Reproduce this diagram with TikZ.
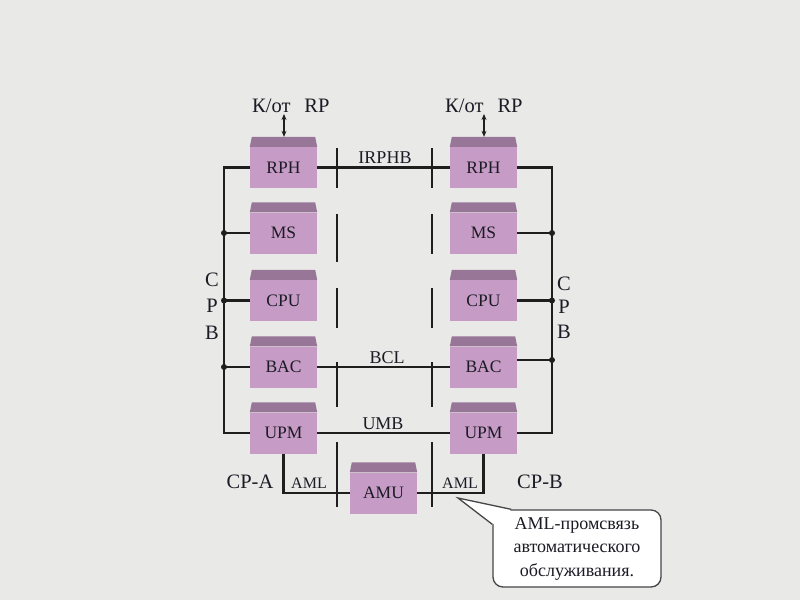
\documentclass[tikz,border=0pt]{standalone}
\usepackage{fontspec}
\setmainfont{Liberation Serif}
\usetikzlibrary{calc,arrows.meta}
\definecolor{bgc}{RGB}{233,233,231}
\definecolor{boxc}{RGB}{198,156,198}
\definecolor{topc}{RGB}{152,118,152}
\definecolor{txt}{RGB}{28,26,36}
\definecolor{ln}{RGB}{30,30,30}
\definecolor{notec}{RGB}{70,70,70}
\tikzset{
  unit/.style={fill=boxc, minimum width=67pt, minimum height=41pt, inner sep=0pt,
    text=txt, font=\fontsize{17.5}{20}\selectfont},
  bus/.style={draw=ln, line width=2.2pt},
  divider/.style={draw=ln, line width=1.1pt},
  lbl/.style={text=txt, font=\fontsize{18}{20}\selectfont, inner sep=0pt, anchor=base},
  biglbl/.style={text=txt, font=\fontsize{20.5}{22}\selectfont, inner sep=0pt, anchor=base},
  smalllbl/.style={text=txt, font=\fontsize{16}{18}\selectfont, inner sep=0pt, anchor=base},
  dot/.style={fill=ln},
  dblarrow/.style={draw=ln, line width=1.1pt, {Stealth[length=6pt,width=5pt]}-{Stealth[length=6pt,width=5pt]}},
  notebox/.style={draw=notec, line width=1.3pt, fill=white, rounded corners=10pt,
    minimum width=168pt, minimum height=77pt, inner sep=0pt, align=center,
    text=txt, font=\fontsize{18}{23.5}\selectfont},
}
\newcommand{\topface}[1]{\fill[topc] (#1.north west) -- ++(2,-10) -- ($(#1.north east)+(-2,-10)$) -- (#1.north east) -- cycle;}
\begin{document}
\begin{tikzpicture}[x=1pt,y=-1pt]
\fill[bgc] (0,0) rectangle (800,600);
\useasboundingbox (0,0) rectangle (800,600);

% units
\node[unit] (lRPH) at (283.5,167.5) {RPH};
\node[unit] (lMS)  at (283.5,233) {MS};
\node[unit] (lCPU) at (283.5,300.5) {CPU};
\node[unit] (lBAC) at (283.5,367) {BAC};
\node[unit] (lUPM) at (283.5,433) {UPM};
\node[unit] (rRPH) at (483.5,167.5) {RPH};
\node[unit] (rMS)  at (483.5,233) {MS};
\node[unit] (rCPU) at (483.5,300.5) {CPU};
\node[unit] (rBAC) at (483.5,367) {BAC};
\node[unit] (rUPM) at (483.5,433) {UPM};
\node[unit] (AMU)  at (383.5,493) {AMU};
\foreach \n in {lRPH,lMS,lCPU,lBAC,lUPM,rRPH,rMS,rCPU,rBAC,rUPM,AMU}{\topface{\n}}

% CPB buses
\coordinate (lbus) at (224,0);
\coordinate (rbus) at (552,0);
\draw[bus] (lRPH.west) -- (lRPH.west -| lbus) -- (lUPM.west -| lbus) -- (lUPM.west);
\foreach \n in {lMS,lCPU,lBAC}{
  \draw[bus] (\n.west) -- (\n.west -| lbus);
  \fill[dot] (\n.west -| lbus) circle (3);
}
\draw[bus] (rRPH.east) -- (rRPH.east -| rbus) -- (rUPM.east -| rbus) -- (rUPM.east);
\foreach \n in {rMS,rCPU}{
  \draw[bus] (\n.east) -- (\n.east -| rbus);
  \fill[dot] (\n.east -| rbus) circle (3);
}
\coordinate (rbacp) at ($(rBAC.east)+(0,-7)$);
\draw[bus] (rbacp) -- (rbacp -| rbus);
\fill[dot] (rbacp -| rbus) circle (3);

% cross links
\draw[bus] (lRPH.east) -- (rRPH.west);
\draw[bus] (lBAC.east) -- (rBAC.west);
\draw[bus] (lUPM.east) -- (rUPM.west);
\draw[bus] (lUPM.south) -- (lUPM.south |- AMU.west) -- (AMU.west);
\draw[bus] (AMU.east) -- (AMU.east -| rUPM.south) -- (rUPM.south);

% dividers
\foreach \a/\b in {148/188,214/262,288/328,362/407,442/507}{\draw[divider] (337,\a) -- (337,\b);}
\foreach \a/\b in {148/188,214/254,288/328,362/407,442/507}{\draw[divider] (432,\a) -- (432,\b);}

% link labels
\node[lbl] (irphb) at (385,163) {IRPHB};
\node[lbl] (bcl) at (387,363) {BCL};
\node[lbl] (umb) at (383,429) {UMB};
\node[smalllbl] (laml) at (309,488) {AML};
\node[smalllbl] (raml) at (460,488) {AML};
\node[biglbl] (cpa) at (250,488) {CP-A};
\node[biglbl] (cpb) at (540,488) {CP-B};

% CPB letters
\node[biglbl] (lc) at (212,286) {C};
\node[biglbl] (lp) at (212,312) {P};
\node[biglbl] (lb) at (212,339) {B};
\node[biglbl] (rc) at (564,290) {C};
\node[biglbl] (rp) at (564,313) {P};
\node[biglbl] (rb) at (564,338) {B};

% K/ot RP
\node[biglbl, anchor=base west] (lk) at (252,112) {К/от\hspace{14pt}RP};
\node[biglbl, anchor=base west] (rk) at (445,112) {К/от\hspace{14pt}RP};
\coordinate (lka) at (284,114);
\coordinate (rka) at (484,114);
\draw[dblarrow] (lka) -- ($(lRPH.north)+(0.5,-10)$);
\draw[dblarrow] (rka) -- ($(rRPH.north)+(0.5,-10)$);

% callout
\node[notebox] (note) at (577,548.5) {AML-промсвязь\\автоматического\\обслуживания.};
\coordinate (tip) at (458,498);
\coordinate (ta) at ($(note.north west)+(0,15)$);
\coordinate (tb) at ($(note.north west)+(19,0)$);
\fill[white] (ta) -- (tip) -- (tb) -- ($(note.north west)+(10,10)$) -- cycle;
\draw[notec, line width=1.3pt] (ta) -- (tip) -- (tb);
\end{tikzpicture}
\end{document}
